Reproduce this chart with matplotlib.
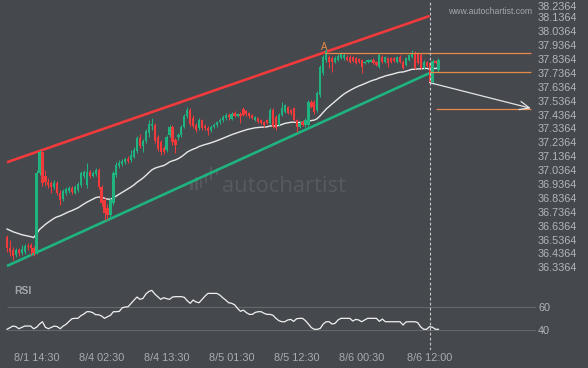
import matplotlib
matplotlib.use("Agg")
import matplotlib.pyplot as plt
import matplotlib.transforms as mtransforms
from matplotlib.patches import Rectangle

plt.rcParams['font.family'] = ['Liberation Sans', 'DejaVu Sans']

# ---------------- data ----------------
opens = [36.555, 36.475, 36.461, 36.425, 36.461, 36.439, 36.447, 36.490, 36.497, 36.475,
         36.447, 37.015, 37.167, 36.994, 36.951, 36.943, 36.915, 36.943, 36.871, 36.828,
         36.871, 36.886, 36.907, 36.871, 36.893, 36.929, 36.994, 36.929, 37.023, 36.994,
         37.008, 37.037, 36.915, 36.821, 36.763, 36.713, 36.799, 37.001, 37.066, 37.080,
         37.095, 37.116, 37.109, 37.131, 37.174, 37.267, 37.210, 37.246, 37.303, 37.354,
         37.361, 37.275, 37.239, 37.195, 37.181, 37.289, 37.347, 37.253, 37.275, 37.289,
         37.347, 37.426, 37.469, 37.411, 37.361, 37.339, 37.397, 37.354, 37.339, 37.325,
         37.347, 37.361, 37.383, 37.397, 37.411, 37.433, 37.404, 37.447, 37.426, 37.440,
         37.476, 37.462, 37.447, 37.433, 37.397, 37.411, 37.397, 37.383, 37.397, 37.375,
         37.469, 37.419, 37.361, 37.433, 37.455, 37.491, 37.469, 37.483, 37.397, 37.347,
         37.383, 37.361, 37.361, 37.527, 37.527, 37.469, 37.577, 37.735, 37.829, 37.851,
         37.843, 37.815, 37.829, 37.843, 37.843, 37.851, 37.851, 37.851, 37.843, 37.836,
         37.829, 37.807, 37.815, 37.815, 37.829, 37.815, 37.779, 37.851, 37.815, 37.843,
         37.843, 37.843, 37.815, 37.851, 37.815, 37.793, 37.829, 37.851, 37.879, 37.879,
         37.865, 37.771, 37.815, 37.807, 37.671, 37.822, 37.757]
highs = [36.569, 36.533, 36.483, 36.475, 36.475, 36.497, 36.504, 36.511, 36.511, 36.490,
         37.037, 37.181, 37.174, 37.037, 36.979, 36.958, 36.965, 36.958, 36.893, 36.900,
         36.915, 36.922, 36.922, 36.929, 36.951, 37.030, 37.037, 37.087, 37.037, 37.030,
         37.051, 37.051, 36.929, 36.843, 36.792, 36.835, 37.030, 37.095, 37.109, 37.116,
         37.131, 37.138, 37.181, 37.203, 37.282, 37.296, 37.260, 37.332, 37.397, 37.411,
         37.375, 37.289, 37.253, 37.210, 37.289, 37.361, 37.361, 37.267, 37.303, 37.361,
         37.440, 37.491, 37.483, 37.433, 37.375, 37.411, 37.404, 37.368, 37.354, 37.361,
         37.375, 37.390, 37.411, 37.433, 37.447, 37.447, 37.455, 37.462, 37.447, 37.455,
         37.491, 37.469, 37.455, 37.440, 37.426, 37.419, 37.404, 37.390, 37.404, 37.483,
         37.483, 37.433, 37.447, 37.527, 37.512, 37.498, 37.476, 37.491, 37.404, 37.390,
         37.397, 37.411, 37.541, 37.541, 37.541, 37.606, 37.793, 37.865, 37.908, 37.865,
         37.858, 37.858, 37.872, 37.887, 37.879, 37.865, 37.865, 37.858, 37.851, 37.843,
         37.836, 37.822, 37.836, 37.836, 37.843, 37.822, 37.879, 37.865, 37.858, 37.851,
         37.851, 37.851, 37.858, 37.865, 37.829, 37.851, 37.872, 37.901, 37.894, 37.887,
         37.879, 37.829, 37.822, 37.815, 37.836, 37.829, 37.843]
lows = [36.447, 36.418, 36.389, 36.411, 36.418, 36.425, 36.432, 36.461, 36.425, 36.418,
        36.432, 37.001, 36.922, 36.922, 36.907, 36.871, 36.900, 36.857, 36.785, 36.814,
        36.857, 36.871, 36.864, 36.864, 36.879, 36.915, 36.979, 36.907, 36.979, 36.987,
        36.994, 36.900, 36.778, 36.677, 36.684, 36.699, 36.785, 36.987, 37.051, 37.066,
        37.080, 37.087, 37.095, 37.123, 37.159, 37.195, 37.167, 37.231, 37.275, 37.325,
        37.231, 37.174, 37.145, 37.152, 37.167, 37.275, 37.217, 37.159, 37.253, 37.275,
        37.339, 37.411, 37.354, 37.339, 37.311, 37.325, 37.325, 37.325, 37.289, 37.311,
        37.339, 37.347, 37.368, 37.383, 37.397, 37.397, 37.397, 37.419, 37.419, 37.375,
        37.426, 37.426, 37.411, 37.404, 37.390, 37.375, 37.368, 37.347, 37.368, 37.368,
        37.339, 37.325, 37.354, 37.426, 37.447, 37.440, 37.433, 37.390, 37.311, 37.339,
        37.354, 37.347, 37.354, 37.483, 37.440, 37.455, 37.563, 37.721, 37.815, 37.771,
        37.743, 37.807, 37.822, 37.836, 37.829, 37.822, 37.807, 37.815, 37.800, 37.807,
        37.735, 37.800, 37.807, 37.815, 37.800, 37.786, 37.771, 37.807, 37.807, 37.779,
        37.807, 37.815, 37.807, 37.807, 37.764, 37.786, 37.822, 37.843, 37.764, 37.800,
        37.764, 37.764, 37.779, 37.656, 37.656, 37.800, 37.743]
closes = [36.475, 36.447, 36.418, 36.461, 36.439, 36.468, 36.490, 36.483, 36.475, 36.439,
          37.015, 37.167, 36.943, 36.951, 36.929, 36.915, 36.943, 36.871, 36.821, 36.886,
          36.900, 36.907, 36.879, 36.915, 36.936, 37.015, 37.023, 37.023, 36.994, 37.015,
          37.037, 36.915, 36.799, 36.727, 36.713, 36.821, 37.015, 37.073, 37.087, 37.102,
          37.116, 37.102, 37.145, 37.181, 37.267, 37.210, 37.246, 37.318, 37.368, 37.368,
          37.246, 37.188, 37.167, 37.167, 37.275, 37.347, 37.239, 37.217, 37.289, 37.347,
          37.426, 37.469, 37.368, 37.354, 37.325, 37.397, 37.339, 37.339, 37.318, 37.347,
          37.361, 37.383, 37.397, 37.419, 37.433, 37.419, 37.440, 37.426, 37.440, 37.426,
          37.433, 37.440, 37.426, 37.411, 37.419, 37.383, 37.375, 37.361, 37.375, 37.469,
          37.347, 37.339, 37.433, 37.483, 37.505, 37.447, 37.447, 37.397, 37.347, 37.375,
          37.361, 37.397, 37.527, 37.491, 37.455, 37.591, 37.779, 37.851, 37.894, 37.815,
          37.815, 37.843, 37.858, 37.872, 37.865, 37.829, 37.815, 37.822, 37.807, 37.815,
          37.779, 37.815, 37.829, 37.829, 37.807, 37.793, 37.865, 37.815, 37.851, 37.807,
          37.815, 37.822, 37.851, 37.815, 37.771, 37.843, 37.865, 37.879, 37.771, 37.807,
          37.771, 37.815, 37.786, 37.663, 37.822, 37.807, 37.829]
rsi = [40.6, 42.0, 43.4, 42.9, 41.1, 42.3, 43.4, 43.4, 43.4, 41.1,
       42.3, 45.1, 47.1, 42.3, 41.1, 42.3, 43.4, 42.9, 41.1, 43.4,
       44.9, 47.4, 49.7, 50.0, 50.0, 52.3, 53.7, 55.7, 55.7, 54.9,
       53.1, 53.1, 52.0, 50.0, 51.4, 52.6, 55.7, 55.7, 56.0, 59.1,
       59.7, 60.0, 62.9, 65.7, 68.3, 66.3, 67.1, 70.9, 73.1, 74.0,
       70.9, 68.6, 66.3, 67.7, 66.9, 66.3, 68.3, 68.6, 68.6, 68.6,
       68.0, 65.1, 62.9, 65.7, 64.0, 63.4, 66.3, 69.1, 71.4, 71.4,
       71.4, 71.4, 70.0, 67.7, 65.7, 63.4, 62.9, 61.7, 58.6, 56.0,
       57.1, 54.9, 53.4, 53.4, 55.1, 55.7, 55.7, 54.3, 53.4, 53.4,
       52.6, 50.0, 48.0, 47.1, 47.1, 48.6, 49.1, 47.4, 49.7, 50.0,
       50.0, 48.0, 45.1, 42.0, 40.6, 40.6, 41.4, 45.1, 47.1, 47.1,
       45.1, 45.7, 48.6, 50.0, 50.0, 50.0, 50.0, 47.7, 49.1, 48.6,
       47.1, 48.6, 50.0, 50.0, 50.0, 50.0, 47.4, 49.4, 47.1, 47.1,
       47.1, 47.1, 47.1, 47.1, 44.3, 46.9, 47.1, 47.1, 47.1, 46.3,
       42.6, 40.6, 40.6, 42.9, 42.3, 40.6, 40.6]

tick_pos = [10, 32, 54, 76, 98, 120, 143]
tick_labels = ["8/1 14:30", "8/4 02:30", "8/4 13:30", "8/5 01:30",
               "8/5 12:30", "8/6 00:30", "8/6 12:00"]
price_ticks = [36.3364, 36.4364, 36.5364, 36.6364, 36.7364, 36.8364, 36.9364,
               37.0364, 37.1364, 37.2364, 37.3364, 37.4364, 37.5364, 37.6364,
               37.7364, 37.8364, 37.9364, 38.0364, 38.1364, 38.2364]
price_tick_labels = ["36.3364", "36.4364", "36.5364", "36.6364", "36.7364", "36.8364",
                     "36.9364", "37.0364", "37.1364", "37.2364", "37.3364", "37.4364",
                     "37.5364", "37.6364", "37.7364", "37.8364", "37.9364", "38.0364",
                     "38.1364", "38.2364"]
rsi_levels = [40, 60]

channel_x = [0, 143]
upper_line = [37.093, 38.146]
lower_line = [36.346, 37.735]
pattern_point_x, pattern_point_y = 107.5, 37.925
resistance_level = 37.877
support_level = 37.743
target_level = 37.474
arrow_start = (143, 37.666)
arrow_end = (177.3, 37.481)
signal_x = 143
level_end_x = 177.3
ema_seed = 36.62
ema_span = 35

# ---------------- style ----------------
BG = '#45484d'
GREEN = '#1fb37f'
RED = '#f03a3c'
ORANGE = '#e8894c'
LABEL = '#b2b5ba'

W, H = 588, 368
fig = plt.figure(figsize=(W / 100, H / 100), dpi=100, facecolor=BG)
ax = fig.add_axes([0, 88 / H, 536 / W, 280 / H], facecolor=BG)
ax2 = fig.add_axes([0, 18 / H, 536 / W, 70 / H], facecolor=BG)

xlim = (-2.37, 179.0)
for a in (ax, ax2):
    a.set_xlim(*xlim)
    for s in a.spines.values():
        s.set_visible(False)
ax.set_ylim(36.245, 38.261)
ax2.set_ylim(22.84, 82.9)

# watermark
ax.text(0.529, 0.334, "autochartist", transform=ax.transAxes, fontsize=15.8,
        color='#575a5f', ha='center', va='center', family=['Open Sans', 'DejaVu Sans'],
        zorder=0)
logo = [(190, 183, 190), (195, 177, 190), (199.5, 180, 188), (204.5, 173, 183),
        (209.5, 167, 180), (215.5, 168, 175)]
for lx, ytop, ybot in logo:
    ax.add_patch(Rectangle((lx / 536, 1 - ybot / 280), 2.6 / 536, (ybot - ytop) / 280,
                           transform=ax.transAxes, color='#55585d', lw=0, zorder=0))
ax.text(490 / 536, 1 - 11 / 280, "www.autochartist.com", transform=ax.transAxes,
        fontsize=6.2, color='#a4a7ac', ha='center', va='center', zorder=1)

# channel lines
ax.plot(channel_x, upper_line, color=RED, lw=1.9, solid_capstyle='butt', zorder=2)
ax.plot(channel_x, lower_line, color=GREEN, lw=1.9, solid_capstyle='butt', zorder=2)

# EMA
alpha = 2 / (ema_span + 1)
ema = []
prev = ema_seed
for c in closes:
    prev = prev + alpha * (c - prev)
    ema.append(prev)
idx = list(range(len(closes)))
ax.plot(idx, ema, color='#e8e8e8', lw=1.0, zorder=3)

# candles
for i, (o, h, l, c) in enumerate(zip(opens, highs, lows, closes)):
    col = GREEN if c >= o else RED
    ax.vlines(i, l, h, color=col, lw=0.75, zorder=4)
    ax.bar(i, max(abs(c - o), 0.004), bottom=min(o, c), width=0.75, color=col,
           lw=0, zorder=5)

# levels and projection
ax.hlines(resistance_level, pattern_point_x, level_end_x, color=ORANGE, lw=0.9, zorder=6)
ax.hlines(support_level, signal_x, level_end_x, color=ORANGE, lw=0.9, zorder=6)
ax.hlines(target_level, signal_x + 2, level_end_x, color=ORANGE, lw=0.9, zorder=6)
ax.annotate("", xy=arrow_end, xytext=arrow_start,
            arrowprops=dict(arrowstyle='->,head_length=0.7,head_width=0.3',
                            color='#e4e4e4', lw=0.9, shrinkA=0, shrinkB=0), zorder=7)
ax.text(pattern_point_x, pattern_point_y, "A", color=ORANGE, fontsize=7,
        ha='center', va='center', zorder=7)

for a in (ax, ax2):
    a.axvline(signal_x, color='#c9c9c9', lw=0.8, dashes=(2.5, 2), zorder=8)

# price axis
ax.yaxis.tick_right()
ax.set_yticks(price_ticks)
ax.set_yticklabels(price_tick_labels)
ax.tick_params(axis='y', length=0, pad=1.5, labelsize=7.8, labelcolor=LABEL)
ax.tick_params(axis='x', length=0, labelbottom=False)
# keep the topmost label fully inside the picture
top_label = ax.get_yticklabels()[-1]
top_label.set_transform(top_label.get_transform() +
                        mtransforms.ScaledTranslation(0, -2.5 / 100, fig.dpi_scale_trans))

# RSI panel
ax2.hlines(rsi_levels, 0, xlim[1], color='#64676c', lw=0.8, zorder=1)
ax2.plot(idx, rsi, color='#f0f0f0', lw=0.9, zorder=3)
ax2.text(14 / 536, 1 - 11 / 70, "RSI", transform=ax2.transAxes, fontsize=7.5,
         fontweight='bold', color='#a2a5aa', ha='left', va='center')
ax2.yaxis.tick_right()
ax2.set_yticks(rsi_levels)
ax2.set_yticklabels([str(v) for v in rsi_levels])
ax2.tick_params(axis='y', length=0, pad=1.5, labelsize=7.8, labelcolor=LABEL)
ax2.set_xticks(tick_pos)
ax2.set_xticklabels(tick_labels)
ax2.tick_params(axis='x', length=0, pad=2.0, labelsize=7.8, labelcolor='#a9acb1')

fig.savefig("out.png", dpi=100, facecolor=BG)
